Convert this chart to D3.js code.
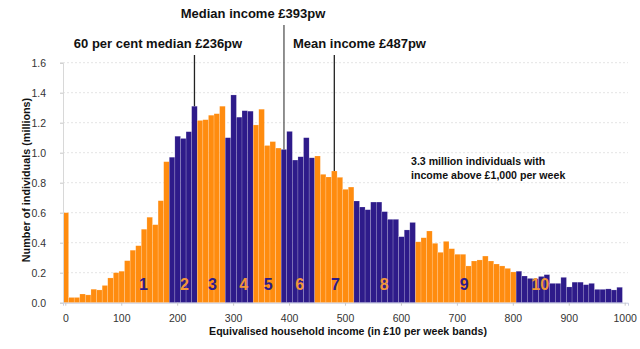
<!DOCTYPE html>
<html>
<head>
<meta charset="utf-8">
<script src="https://cdn.jsdelivr.net/npm/d3@7"></script>
<style>
  body { margin: 0; background: #fff; }
  svg { font-family: "Liberation Sans", Arial, sans-serif; }
</style>
</head>
<body>
<div class="canvas"></div>
<script>
// number of individuals (millions) in each £10 per week band, 0 to 990
const counts = [
  0.60, 0.035, 0.035, 0.058, 0.052, 0.09, 0.085, 0.115, 0.165, 0.20,
  0.21, 0.28, 0.35, 0.38, 0.49, 0.57, 0.52, 0.68, 0.94, 0.97,
  1.11, 1.095, 1.14, 1.31, 1.215, 1.22, 1.25, 1.26, 1.31, 1.10,
  1.385, 1.237, 1.28, 1.277, 1.185, 1.29, 1.048, 1.074, 1.031, 1.022,
  1.142, 0.951, 0.973, 1.10, 0.966, 0.978, 0.856, 0.838, 0.878, 0.836,
  0.756, 0.771, 0.678, 0.638, 0.62, 0.671, 0.671, 0.607, 0.556, 0.556,
  0.44, 0.485, 0.535, 0.406, 0.433, 0.478, 0.396, 0.336, 0.409, 0.36,
  0.323, 0.323, 0.245, 0.278, 0.285, 0.311, 0.278, 0.258, 0.245, 0.229,
  0.205, 0.21, 0.178, 0.162, 0.16, 0.175, 0.187, 0.129, 0.129, 0.169,
  0.105, 0.137, 0.137, 0.12, 0.129, 0.089, 0.089, 0.092, 0.085, 0.103
];

// first band of each income decile
const decileStart = [0, 19, 24, 29, 34, 39, 45, 52, 63, 81];
const decileNames = ['1', '2', '3', '4', '5', '6', '7', '8', '9', '10'];
// where each decile number sits (in £10 bands)
const decileLabelAt = [14.4, 21.7, 26.7, 32.3, 36.7, 42.3, 48.7, 57.4, 71.7, 85.3];

const xTicks = [0, 100, 200, 300, 400, 500, 600, 700, 800, 900, 1000];
const yTicks = [0, 0.2, 0.4, 0.6, 0.8, 1.0, 1.2, 1.4, 1.6];

// markers: label, band the line points at, label row
const markers = [
  {label: '60 per cent median £236pw', band: 23, row: 1, anchor: 'middle', at: 158},
  {label: 'Median income £393pw', band: 39, row: 0, anchor: 'middle', at: 253},
  {label: 'Mean income £487pw', band: 48, row: 1, anchor: 'start', at: 293}
];
const note = ['3.3 million individuals with', 'income above £1,000 per week'];

const width = 640, height = 349;
const orange = '#ff8c0f', blue = '#2e1b8a';

const svg = d3.select('.canvas')
  .append('svg')
  .attr('width', width)
  .attr('height', height);

const x = d3.scaleBand()
  .domain(d3.range(101))
  .range([63, 628])
  .padding(0);

const y = d3.scaleLinear()
  .domain([0, 1.6])
  .range([302.7, 62.7]);

const decileOf = i => d3.bisectRight(decileStart, i) - 1;

// gridlines
svg.append('g')
  .selectAll('line')
  .data(yTicks.filter(t => t > 0))
  .join('line')
    .attr('x1', x(0)).attr('x2', x.range()[1])
    .attr('y1', d => y(d)).attr('y2', d => y(d))
    .attr('stroke', '#dcdcdc')
    .attr('stroke-width', 0.8)
    .attr('stroke-dasharray', '2,2');

// bars
svg.append('g')
  .selectAll('rect')
  .data(counts)
  .join('rect')
    .attr('x', (d, i) => x(i))
    .attr('y', d => y(d))
    .attr('width', x.bandwidth())
    .attr('height', d => y(0) - y(d))
    .attr('fill', (d, i) => decileOf(i) % 2 === 0 ? orange : blue)
    .attr('stroke', 'rgba(255,255,255,0.35)')
    .attr('stroke-width', 0.5);

// y axis
const yAxis = svg.append('g')
  .attr('transform', `translate(${x(0)},0)`)
  .call(d3.axisLeft(y).tickValues(yTicks).tickFormat(d3.format('.1f')).tickSize(3).tickPadding(14));
yAxis.select('.domain').attr('stroke', '#d8d8d8');
yAxis.selectAll('.tick line').attr('stroke', '#c8c8c8');
yAxis.selectAll('text').attr('font-size', 10.5).attr('fill', '#333')
  .attr('font-family', '"Liberation Sans", Arial, sans-serif');

// x axis
const xAxis = svg.append('g')
  .attr('transform', `translate(0,${y(0)})`)
  .call(d3.axisBottom(x).tickValues(xTicks.map(t => t / 10)).tickFormat(d => d * 10).tickSize(3).tickPadding(9));
xAxis.select('.domain').attr('stroke', '#c8cde0');
xAxis.selectAll('.tick line').attr('stroke', '#c8c8c8');
xAxis.selectAll('text').attr('font-size', 10.5).attr('fill', '#333')
  .attr('font-family', '"Liberation Sans", Arial, sans-serif');

// decile numbers
svg.append('g')
  .selectAll('text')
  .data(decileNames)
  .join('text')
    .attr('x', (d, i) => x(0) + decileLabelAt[i] * x.bandwidth())
    .attr('y', 290)
    .attr('text-anchor', 'middle')
    .attr('font-size', 16)
    .attr('font-weight', 'bold')
    .attr('fill', (d, i) => i % 2 === 0 ? blue : '#f29638')
    .text(d => d);

// marker lines and labels
markers.forEach(m => {
  const cx = x(m.band) + x.bandwidth() / 2;
  const top = m.row === 0 ? 25 : 55;
  svg.append('line')
    .attr('x1', cx).attr('x2', cx)
    .attr('y1', top).attr('y2', y(counts[m.band]))
    .attr('stroke', m.row === 0 ? '#555' : '#222')
    .attr('stroke-width', 1.3);
  svg.append('text')
    .attr('x', m.at)
    .attr('y', m.row === 0 ? 18 : 48)
    .attr('text-anchor', m.anchor)
    .attr('font-size', 13)
    .attr('font-weight', 'bold')
    .attr('fill', '#111')
    .text(m.label);
});

// note on the right
svg.append('text')
  .attr('x', 411)
  .attr('y', 164.5)
  .attr('font-size', 10.6)
  .attr('font-weight', 'bold')
  .attr('fill', '#111')
  .selectAll('tspan')
  .data(note)
  .join('tspan')
    .attr('x', 411)
    .attr('dy', (d, i) => i === 0 ? 0 : 14.5)
    .text(d => d);

// axis titles
svg.append('text')
  .attr('x', 348)
  .attr('y', 335)
  .attr('text-anchor', 'middle')
  .attr('font-size', 10.6)
  .attr('font-weight', 'bold')
  .attr('fill', '#111')
  .text('Equivalised household income (in £10 per week bands)');

svg.append('text')
  .attr('transform', 'translate(30,180) rotate(-90)')
  .attr('text-anchor', 'middle')
  .attr('font-size', 10.8)
  .attr('font-weight', 'bold')
  .attr('fill', '#111')
  .text('Number of individuals (millions)');
</script>
</body>
</html>
